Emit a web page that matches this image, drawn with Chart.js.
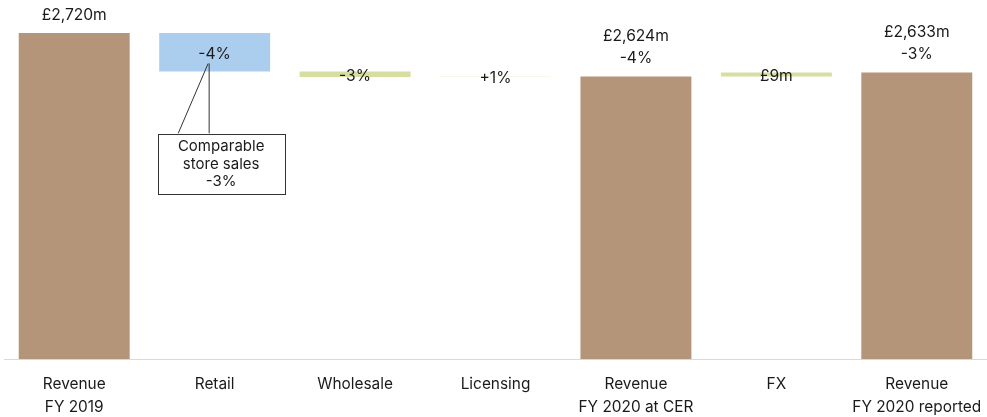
<!DOCTYPE html>
<html>
<head>
<meta charset="utf-8">
<script src="https://cdn.jsdelivr.net/npm/chart.js@4"></script>
<style>
  html, body { margin: 0; padding: 0; background: #ffffff; }
  #wrap { width: 987px; height: 417px; position: relative; }
</style>
</head>
<body>
<div id="wrap"><canvas id="chart"></canvas></div>
<script>
// Revenue bridge, FY 2019 to FY 2020 (£m)
const categories = [
  ['Revenue', 'FY 2019'],
  'Retail',
  'Wholesale',
  'Licensing',
  ['Revenue', 'FY 2020 at CER'],
  'FX',
  ['Revenue', 'FY 2020 reported']
];
// 'total' bars stand on the axis floor; 'step' bars float from the running total
const kinds = ['total', 'step', 'step', 'step', 'total', 'step', 'total'];
const values = [2720, -85, -12, 1, 2624, 9, 2633];
const valueLabels = [
  ['£2,720m'],
  ['-4%'],
  ['-3%'],
  ['+1%'],
  ['£2,624m', '-4%'],
  ['£9m'],
  ['£2,633m', '-3%']
];
const callout = ['Comparable', 'store sales', '-3%'];
const calloutIndex = 1;

const axisMin = 2000;
const axisMax = 2793;

const colors = ['#b5957a', '#abcdee', '#d8dea0', '#eef0d6', '#b5957a', '#d8dea0', '#b5957a'];
const FONT = 'Inter, "Noto Sans", sans-serif';
const TEXT = '#1a1a1a';

// running total -> floating bar ranges
const ranges = [];
let running = 0;
values.forEach((v, i) => {
  if (kinds[i] === 'total') {
    ranges.push([axisMin, v]);
    running = v;
  } else {
    const next = running + v;
    ranges.push([Math.min(running, next), Math.max(running, next)]);
    running = next;
  }
});

const labelPlugin = {
  id: 'bridgeLabels',
  afterDatasetsDraw(chart) {
    const ctx = chart.ctx;
    const meta = chart.getDatasetMeta(0);
    const y = chart.scales.y;
    ctx.save();
    ctx.textAlign = 'center';
    ctx.textBaseline = 'middle';

    // callout box for comparable store sales
    const cb = meta.data[calloutIndex];
    const cx = cb.x;
    const apexY = y.getPixelForValue(ranges[calloutIndex][0]) - 8;
    const boxL = cx - 57, boxR = cx + 70, boxT = apexY + 70, boxB = apexY + 130;
    ctx.strokeStyle = '#333333';
    ctx.lineWidth = 1;
    ctx.beginPath();
    ctx.moveTo(cx - 6.5, apexY);
    ctx.lineTo(cx - 36.5, boxT);
    ctx.moveTo(cx - 5.5, apexY);
    ctx.lineTo(cx - 5.5, boxT);
    ctx.stroke();
    ctx.fillStyle = '#ffffff';
    ctx.fillRect(boxL, boxT, boxR - boxL, boxB - boxT);
    ctx.strokeRect(Math.round(boxL) + 0.5, Math.round(boxT) + 0.5, boxR - boxL, boxB - boxT);
    ctx.fillStyle = TEXT;
    ctx.font = '15px ' + FONT;
    callout.forEach((line, k) => {
      ctx.fillText(line, (boxL + boxR) / 2, boxT + 13 + k * 17.5);
    });

    ctx.font = '15.6px ' + FONT;
    meta.data.forEach((bar, i) => {
      const lines = valueLabels[i];
      if (kinds[i] === 'total') {
        const top = y.getPixelForValue(ranges[i][1]);
        lines.forEach((line, k) => {
          const off = (lines.length - 1 - k) * 22.5;
          ctx.fillText(line, bar.x, top - 18 - off);
        });
      } else {
        const mid = (y.getPixelForValue(ranges[i][0]) + y.getPixelForValue(ranges[i][1])) / 2;
        ctx.fillText(lines[0], bar.x, mid + 2);
      }
    });
    ctx.restore();
  }
};

new Chart(document.getElementById('chart'), {
  type: 'bar',
  data: {
    labels: categories,
    datasets: [{
      data: ranges,
      backgroundColor: colors,
      borderWidth: 0,
      categoryPercentage: 1,
      barPercentage: 0.79
    }]
  },
  options: {
    responsive: true,
    maintainAspectRatio: false,
    animation: false,
    layout: { padding: { left: 4, right: 0, top: 0, bottom: 0 } },
    plugins: {
      legend: { display: false },
      tooltip: { enabled: false }
    },
    scales: {
      x: {
        grid: { display: false, drawTicks: false },
        border: { display: true, color: '#d9d9d9', width: 1 },
        ticks: {
          color: TEXT,
          padding: 13.5,
          maxRotation: 0,
          autoSkip: false,
          font: { family: FONT, size: 15.4, lineHeight: '23px' }
        },
        afterFit(scale) {
          scale.height = 58;
          scale.paddingLeft = 0;
          scale.paddingRight = 0;
        }
      },
      y: {
        display: false,
        min: axisMin,
        max: axisMax
      }
    }
  },
  plugins: [labelPlugin]
});
</script>
</body>
</html>
